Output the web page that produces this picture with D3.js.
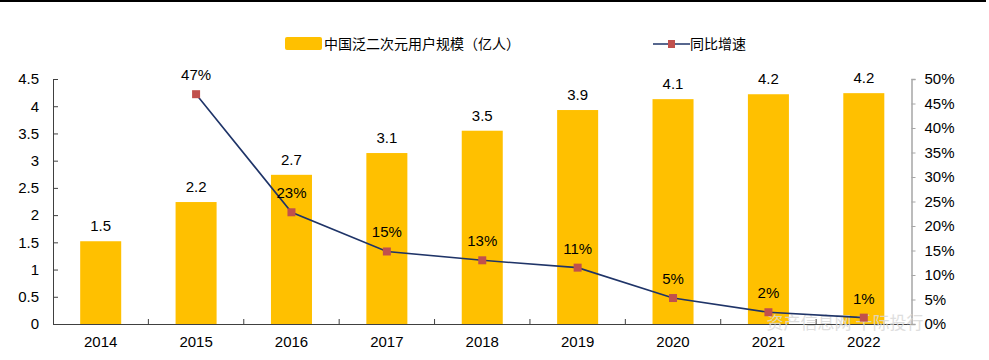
<!DOCTYPE html>
<html><head><meta charset="utf-8">
<script src="https://cdn.jsdelivr.net/npm/d3@7"></script>
<style>body{margin:0;background:#fff}svg{display:block;font-family:"Liberation Sans",Arial,sans-serif}</style>
</head><body><svg id="c" width="989" height="360"></svg>
<script>
const years = ["2014","2015","2016","2017","2018","2019","2020","2021","2022"];
const users = [1.52,2.24,2.74,3.14,3.55,3.93,4.13,4.22,4.24];
const userLabels = ["1.5","2.2","2.7","3.1","3.5","3.9","4.1","4.2","4.2"];
const growthYears = ["2015","2016","2017","2018","2019","2020","2021","2022"];
const growth = [46.9,22.8,14.8,13.0,11.5,5.3,2.4,1.3];
const growthLabels = ["47%","23%","15%","13%","11%","5%","2%","1%"];
const leftTicks = [0,0.5,1,1.5,2,2.5,3,3.5,4,4.5];
const rightTicks = [0,5,10,15,20,25,30,35,40,45,50];

const svg = d3.select("#c");
const L = 53, R = 911.5, T = 79, B = 324;
const x = d3.scaleBand().domain(years).range([L,R]).paddingInner(0.57).paddingOuter(0.285);
const xb = d3.scaleBand().domain(years).range([L,R]);
const y = d3.scaleLinear().domain([0,4.5]).range([B,T]);
const y2 = d3.scaleLinear().domain([0,50]).range([B,T]);

// top rule
svg.append("rect").attr("x",0).attr("y",0).attr("width",986).attr("height",2).attr("fill","#000");

// bars
svg.selectAll("rect.bar").data(years).join("rect").attr("class","bar")
  .attr("x",d=>x(d)).attr("width",x.bandwidth())
  .attr("y",(d,i)=>y(users[i])).attr("height",(d,i)=>B-y(users[i]))
  .attr("fill","#FFC000");
svg.selectAll("text.bl").data(years).join("text").attr("class","bl")
  .attr("x",d=>x(d)+x.bandwidth()/2).attr("y",(d,i)=>y(users[i])-10)
  .attr("text-anchor","middle").attr("font-size",15).attr("fill","#000")
  .text((d,i)=>userLabels[i]);

// x axis
const xa = svg.append("g").attr("transform",`translate(0,${B})`)
  .call(d3.axisBottom(xb).tickSize(0).tickPadding(12));
xa.select(".domain").attr("stroke","#404040").attr("stroke-width",1.2);
xa.selectAll("text").attr("font-size",15).attr("fill","#000").attr("font-family","Liberation Sans, Arial, sans-serif");
svg.selectAll("line.xt").data(years.slice(1)).join("line").attr("class","xt")
  .attr("x1",d=>xb(d)).attr("x2",d=>xb(d)).attr("y1",B).attr("y2",B-5)
  .attr("stroke","#404040");

// left axis
const la = svg.append("g").attr("transform",`translate(${L},0)`)
  .call(d3.axisLeft(y).tickValues(leftTicks).tickFormat(d3.format("")).tickSize(-5).tickSizeOuter(-5).tickPadding(14));
la.select(".domain").attr("stroke","#404040");
la.selectAll("line").attr("stroke","#404040");
la.selectAll("text").attr("font-size",15).attr("fill","#000").attr("font-family","Liberation Sans, Arial, sans-serif");

// right axis
const ra = svg.append("g").attr("transform",`translate(${R},0)`)
  .call(d3.axisRight(y2).tickValues(rightTicks).tickFormat(d=>d+"%").tickSize(4).tickSizeOuter(4).tickPadding(9));
ra.select(".domain").attr("stroke","#A6A6A6").attr("stroke-width",1.5);
ra.selectAll("line").attr("stroke","#A6A6A6");
ra.selectAll("text").attr("font-size",15).attr("fill","#000").attr("font-family","Liberation Sans, Arial, sans-serif");

// watermark
svg.append("text").attr("x",845).attr("y",329).attr("text-anchor","middle")
  .attr("font-size",17).attr("fill","#d9d9d9").attr("opacity",0.85)
  .attr("font-family","Noto Sans CJK SC").text("资产信息网 千际投行");

// line
const cx = d => xb(d)+xb.bandwidth()/2;
const line = d3.line().x((d,i)=>cx(growthYears[i])).y(d=>y2(d));
svg.append("path").datum(growth).attr("d",line).attr("fill","none")
  .attr("stroke","#1F3468").attr("stroke-width",1.6);
svg.selectAll("rect.mk").data(growth).join("rect").attr("class","mk")
  .attr("x",(d,i)=>cx(growthYears[i])-4).attr("y",d=>y2(d)-4)
  .attr("width",8).attr("height",8).attr("fill","#C0504D");
svg.selectAll("text.gl").data(growth).join("text").attr("class","gl")
  .attr("x",(d,i)=>cx(growthYears[i])).attr("y",d=>y2(d)-14)
  .attr("text-anchor","middle").attr("font-size",15).attr("fill","#000")
  .text((d,i)=>growthLabels[i]);

// legend
const lg = svg.append("g");
lg.append("rect").attr("x",285).attr("y",37).attr("width",37).attr("height",13).attr("rx",2).attr("fill","#FFC000");
lg.append("text").attr("x",324).attr("y",49).attr("font-size",14).attr("fill","#000")
  .attr("font-family","Noto Sans CJK SC").text("中国泛二次元用户规模（亿人）");
lg.append("line").attr("x1",653).attr("x2",690).attr("y1",44).attr("y2",44).attr("stroke","#1F3468").attr("stroke-width",1.6);
lg.append("rect").attr("x",668).attr("y",40).attr("width",7).attr("height",8).attr("fill","#C0504D");
lg.append("text").attr("x",690).attr("y",49).attr("font-size",14).attr("fill","#000")
  .attr("font-family","Noto Sans CJK SC").text("同比增速");
</script></body></html>
